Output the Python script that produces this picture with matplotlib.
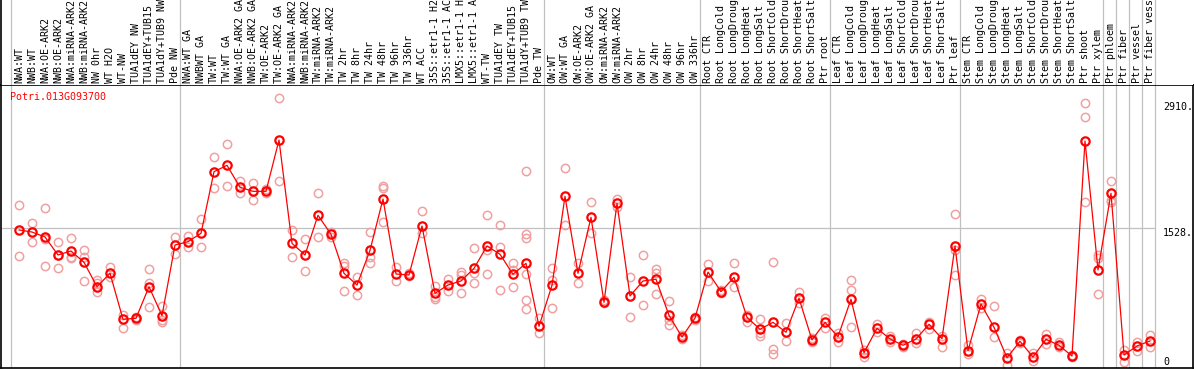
import matplotlib
matplotlib.use("Agg")
import matplotlib.pyplot as plt

# sample names (column labels)
samples = [
    "NWA:WT", "NWB:WT", "NWA:OE-ARK2", "NWB:OE-ARK2", "NWA:miRNA-ARK2", "NWB:miRNA-ARK2",
    "NW 0hr", "WT H2O", "WT-NW", "TUA1dEY NW", "TUA1dEY+TUB15 NW", "TUA1dY+TUB9 NW", "Pde NW",
    "NWA:WT GA", "NWBWT GA", "TW:WT", "TW:WT GA", "NWA:OE-ARK2 GA", "NWB:OE-ARK2 GA",
    "TW:OE-ARK2", "TW:OE-ARK2 GA", "NWA:miRNA-ARK2", "NWB:miRNA-ARK2", "TW:miRNA-ARK2",
    "TW:miRNA-ARK2", "TW 2hr", "TW 8hr", "TW 24hr", "TW 48hr", "TW 96hr", "TW 336hr", "WT ACC",
    "35S::etr1-1 H2O", "35S::etr1-1 ACC", "LMX5::etr1-1 H2O", "LMX5::etr1-1 ACC", "WT-TW",
    "TUA1dEY TW", "TUA1dEY+TUB15 TW", "TUA1dY+TUB9 TW", "Pde TW",
    "OW:WT", "OW:WT GA", "OW:OE-ARK2", "OW:OE-ARK2 GA", "OW:miRNA-ARK2", "OW:miRNA-ARK2",
    "OW 2hr", "OW 8hr", "OW 24hr", "OW 48hr", "OW 96hr", "OW 336hr",
    "Root CTR", "Root LongCold", "Root LongDrought", "Root LongHeat", "Root LongSalt",
    "Root ShortCold", "Root ShortDrought", "Root ShortHeat", "Root ShortSalt", "Ptr root",
    "Leaf CTR", "Leaf LongCold", "Leaf LongDrought", "Leaf LongHeat", "Leaf LongSalt",
    "Leaf ShortCold", "Leaf ShortDrought", "Leaf ShortHeat", "Leaf ShortSalt", "Ptr leaf",
    "Stem CTR", "Stem LongCold", "Stem LongDrought", "Stem LongHeat", "Stem LongSalt",
    "Stem ShortCold", "Stem ShortDrought", "Stem ShortHeat", "Stem ShortSalt",
    "Ptr shoot", "Ptr xylem", "Ptr phloem", "Ptr fiber", "Ptr vessel", "Ptr fiber vessel",
]

# mean expression per sample
means = [
    1506, 1483, 1428, 1227, 1271, 1145, 873, 1023, 510, 521, 873, 550, 1338,
    1375, 1469, 2156, 2227, 1982, 1937, 1937, 2509, 1357, 1227, 1670, 1458,
    1023, 892, 1279, 1851, 1015, 1004, 1550, 800, 892, 937, 1078, 1327, 1235,
    1012, 1134, 432,
    889, 1881, 1023, 1647, 699, 1803, 770, 937, 956, 554, 312, 524,
    1037, 818, 978, 532, 398, 476, 365, 744, 279, 476,
    316, 733, 137, 409, 290, 220, 290, 454, 293, 1327,
    159, 680, 420, 81, 264, 89, 287, 220, 100, 2498, 1060,
    1915, 112, 212, 268,
]

# replicate values per sample
reps = [
    [1781, 1212], [1584, 1368], [1748, 1405, 1101], [1368, 1078, 1227], [1416, 1208, 1190],
    [1283, 1208, 937], [948, 911, 818], [1096, 985], [558, 409], [539, 502],
    [1067, 911, 644], [661, 502, 476], [1431, 1238],
    [1442, 1319], [1628, 1316], [2316, 1971], [2465, 1993], [2049, 1915], [2027, 1837],
    [1966, 1915], [2975, 2052], [1506, 1201], [1405, 1045], [1915, 1428], [1487, 1431],
    [1134, 1107, 825], [978, 781], [1480, 1208, 1134], [2000, 1971, 1592], [1090, 940],
    [1023, 993], [1714, 1469], [881, 762, 736], [959, 829], [1041, 1004, 800],
    [1302, 1023, 911], [1670, 1283, 1012], [1558, 1319, 833], [1134, 1060, 867],
    [2160, 1461, 1413, 1012, 725, 621], [521, 354],
    [1078, 948, 632], [2194, 1558], [1134, 911], [1815, 1476], [725, 688], [1851, 1759],
    [985, 539], [1227, 669], [1067, 1029, 792], [714, 502, 443], [335, 287], [539, 502],
    [1126, 940], [836, 800], [1138, 867], [558, 483], [513, 354, 323], [1145, 178, 119],
    [465, 271], [814, 688], [298, 260], [521, 416],
    [354, 260], [945, 833, 420], [167, 93], [454, 371], [327, 253], [234, 204],
    [360, 242], [483, 405], [327, 204], [1681, 1283, 1000],
    [223, 119], [733, 632], [655, 309], [137, 0], [279, 249], [130, 48], [342, 234],
    [260, 197], [112, 86], [2919, 2763, 1815], [1227, 1190, 792],
    [2056, 1840, 1821], [167, 37], [257, 159], [335, 197],
]

yticks = [0, 1528, 2910]
group_ends = [0, 13, 41, 53, 63, 73, 84, 85, 86, 87, 88]

W, H = 1194, 370
fig = plt.figure(figsize=(W / 100, H / 100), dpi=100)
ax = fig.add_axes([1 / W, 2 / H, 1192 / W, 283 / H])
hdr = fig.add_axes([1 / W, 285 / H, 1192 / W, 85 / H], sharex=ax)

xs = list(range(1, len(samples) + 1))
ax.set_xlim(1 - 18 / 13, 1 + 1174 / 13)
ax.set_ylim(-33.5, 3123)

grid_x = [k + 5 / 13 for k in group_ends]
for gx in grid_x:
    ax.axvline(gx, color="#c0c0c0", lw=0.9, zorder=0)
    hdr.axvline(gx, color="#c0c0c0", lw=0.9, zorder=0)
ax.hlines(yticks[1], ax.get_xlim()[0], grid_x[-1], color="#c0c0c0", lw=0.9, zorder=0)

# replicates
for x, r in zip(xs, reps):
    ax.plot([x] * len(r), r, "o", ms=6, mfc="none", mec="#f0a0a0", mew=1.1, zorder=2)
# means
ax.plot(xs, means, "-", color="#ff0000", lw=0.9, marker="o", ms=6, mfc="none",
        mec="#ff0000", mew=1.6, zorder=3)

ax.set_xticks([])
ax.set_yticks([])
for s in ax.spines.values():
    s.set_color("black")
    s.set_linewidth(1.2)

ax.text(9 / 1192, 0.9587, "Potri.013G093700", transform=ax.transAxes, color="#ff0000",
        family="DejaVu Sans Mono", fontsize=7.2, va="center", ha="left")

offs = [3, -5, -3]
for t, o in zip(yticks, offs):
    lbl = "0" if t == 0 else f"{t}."
    ax.annotate(lbl, xy=(0.9748, t), xycoords=("axes fraction", "data"),
                xytext=(0, o), textcoords="offset pixels", family="DejaVu Sans Mono",
                fontsize=7.2, va="center", ha="left")

hdr.set_ylim(0, 1)
hdr.set_xticks([])
hdr.set_yticks([])
for k, s in hdr.spines.items():
    s.set_visible(k == "left")
hdr.spines["left"].set_linewidth(1.2)
for x, name in zip(xs, samples):
    hdr.text(x, 0.02, name, rotation=90, ha="center", va="bottom",
             family="DejaVu Sans Mono", fontsize=7.2)

fig.savefig("out.png", dpi=100)
